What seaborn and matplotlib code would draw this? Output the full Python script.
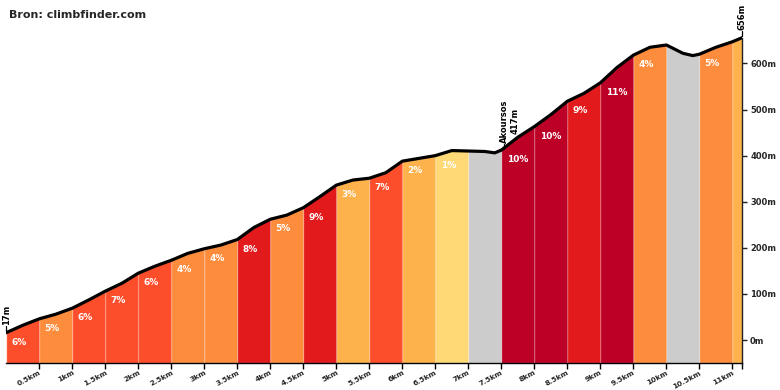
import numpy as np
import pandas as pd
import matplotlib.pyplot as plt
import seaborn as sns

# elevation profile
distance_km = [0, 0.25, 0.5, 0.75, 1.0, 1.25, 1.5, 1.75, 2.0, 2.25, 2.5, 2.75,
               3.0, 3.25, 3.5, 3.75, 4.0, 4.25, 4.5, 4.75, 5.0, 5.25, 5.5, 5.75,
               6.0, 6.25, 6.5, 6.75, 7.0, 7.25, 7.4, 7.5, 7.75, 8.0, 8.25, 8.5,
               8.75, 9.0, 9.25, 9.5, 9.75, 10.0, 10.25, 10.4, 10.5, 10.75, 11.0, 11.15]
elevation_m = [16, 32, 46, 56, 69, 87, 106, 123, 145, 160, 173, 188,
               198, 206, 218, 244, 262, 271, 287, 311, 336, 347, 351, 363,
               388, 394, 400, 411, 410, 409, 406, 412, 440, 463, 489, 518,
               535, 558, 591, 618, 635, 640, 622, 617, 620, 635, 647, 656]

# half-km segments and their gradient
seg_start_km = [0, 0.5, 1.0, 1.5, 2.0, 2.5, 3.0, 3.5, 4.0, 4.5, 5.0, 5.5,
                6.0, 6.5, 7.0, 7.5, 8.0, 8.5, 9.0, 9.5, 10.0, 10.5, 11.0]
seg_end_km = [0.5, 1.0, 1.5, 2.0, 2.5, 3.0, 3.5, 4.0, 4.5, 5.0, 5.5, 6.0,
              6.5, 7.0, 7.5, 8.0, 8.5, 9.0, 9.5, 10.0, 10.5, 11.0, 11.15]
seg_grade = [6, 5, 6, 7, 6, 4, 4, 8, 5, 9, 3, 7, 2, 1, 0, 10, 10, 9, 11, 4, -4, 5, 3]

xtick_km = [0.5, 1, 1.5, 2, 2.5, 3, 3.5, 4, 4.5, 5, 5.5, 6, 6.5, 7, 7.5,
            8, 8.5, 9, 9.5, 10, 10.5, 11]
xtick_labels = ['0.5km', '1km', '1.5km', '2km', '2.5km', '3km', '3.5km', '4km',
                '4.5km', '5km', '5.5km', '6km', '6.5km', '7km', '7.5km', '8km',
                '8.5km', '9km', '9.5km', '10km', '10.5km', '11km']
ytick_m = [0, 100, 200, 300, 400, 500, 600]
ytick_labels = ['0m', '100m', '200m', '300m', '400m', '500m', '600m']

title = 'Bron: climbfinder.com'
waypoint_km = 7.5
waypoint_label = 'Akoursos\n417m'


def grade_color(g):
    if g <= 0:
        return '#CCCCCC'
    if g < 2:
        return '#FED976'
    if g < 4:
        return '#FEB24C'
    if g < 6:
        return '#FD8D3C'
    if g < 8:
        return '#FC4E2A'
    if g < 10:
        return '#E31A1C'
    return '#BD0026'


sns.set_style('white')
plt.rcParams['font.family'] = ['DejaVu Sans']

profile = pd.DataFrame({'km': distance_km, 'elev': elevation_m})
ybot, ytop = -49.2, 737.6

fig = plt.figure(figsize=(7.8, 3.9), dpi=100)
ax = fig.add_axes([6.3 / 780, 27.3 / 390, 736 / 780, 362.7 / 390])

for s, e, g in zip(seg_start_km, seg_end_km, seg_grade):
    part = profile[(profile.km >= s - 1e-9) & (profile.km <= e + 1e-9)]
    ax.fill_between(part.km, part.elev, ybot, facecolor=grade_color(g),
                    edgecolor=(1, 1, 1, 0.3), linewidth=0.6, zorder=1)
    if g > 0 and e - s >= 0.5:
        start_elev = np.interp(s, profile.km, profile.elev)
        ax.text(s + 0.08, start_elev - 21, f'{g}%', color='white',
                fontsize=6.5, fontweight='bold', ha='left', va='center', zorder=3)

sns.lineplot(data=profile, x='km', y='elev', color='black', linewidth=2.3,
             ax=ax, zorder=4, solid_joinstyle='round', solid_capstyle='round')

# start / end / waypoint markers
for km, txt, dx in [(distance_km[0], f'{elevation_m[0] + 1}m', 0),
                    (distance_km[-1], f'{elevation_m[-1]}m', 0),
                    (waypoint_km, waypoint_label, 0.13)]:
    h = np.interp(km, profile.km, profile.elev)
    ax.plot([km + dx * 0.3, km + dx * 0.3], [h + 3, h + 14], color='black',
            lw=0.9, zorder=5, clip_on=False)
    ax.text(km + dx, h + 16, txt, rotation=90, ha='center', va='bottom',
            fontsize=6, fontweight='bold', multialignment='center',
            color='black', zorder=5)

ax.set_xlim(0, distance_km[-1])
ax.set_ylim(ybot, ytop)
ax.set_xticks(xtick_km + [distance_km[-1]])
ax.set_xticklabels(xtick_labels + [''], rotation=28, ha='right', va='top',
                   rotation_mode='anchor', fontsize=5.3, fontweight='bold')
ax.yaxis.tick_right()
ax.set_yticks(ytick_m)
ax.set_yticklabels(ytick_labels, fontsize=6, fontweight='bold')
ax.tick_params(axis='x', direction='out', length=4, width=1, pad=1,
               color='black', bottom=True)
ax.tick_params(axis='y', direction='out', length=3.6, width=1, pad=2,
               color='#222222', right=True, left=False)
ax.set_xlabel('')
ax.set_ylabel('')

for side in ['left', 'top']:
    ax.spines[side].set_visible(False)
ax.spines['bottom'].set_color('black')
ax.spines['bottom'].set_linewidth(1)
ax.spines['right'].set_color('#222222')
ax.spines['right'].set_linewidth(1)
ax.spines['right'].set_bounds(ybot, elevation_m[-1])

fig.text(9 / 780, 1 - 15 / 390, title, fontsize=8, fontweight='bold',
         ha='left', va='center')

fig.savefig('out.png', dpi=100)
